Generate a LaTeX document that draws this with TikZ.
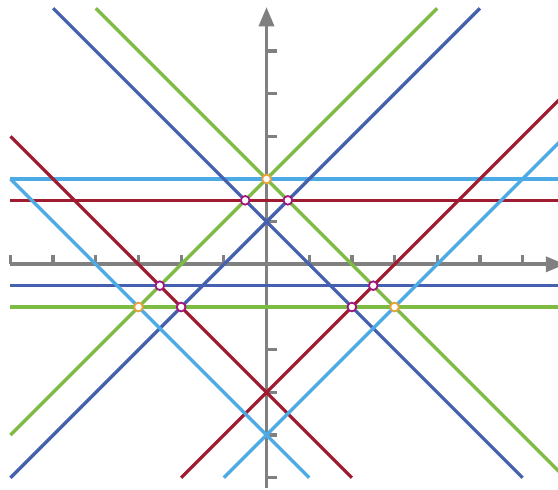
\documentclass[tikz,border=0pt]{standalone}
\definecolor{green1}{RGB}{126, 187, 66}
\definecolor{blue1}{RGB}{68, 96, 174}
\definecolor{red1}{RGB}{158, 27, 48}
\definecolor{sky1}{RGB}{76, 170, 228}
\definecolor{orange1}{RGB}{233, 162, 59}
\definecolor{violet1}{RGB}{163, 21, 126}
\definecolor{gray1}{RGB}{128, 128, 128}
\usetikzlibrary{arrows.meta}

\begin{document}
\begin{tikzpicture}[
    axis/.style={draw=gray1, line width=2.6pt},
    tick/.style={draw=gray1, line width=2.2pt},
    ln/.style={draw=#1, line width=2.2pt},
    dot/.style={circle, draw=#1, fill=white, line width=1.2pt, inner sep=0pt, minimum size=5.8pt}
  ]
  \clip (-6.245,-5.266) rectangle (6.83,6.194);

  % axes with ticks
  \draw[axis, -{Triangle[length=13pt, width=10pt]}] (-6,0) -- (7,0);
  \draw[axis, -{Triangle[length=13pt, width=10pt]}] (0,-5.25) -- (0,6.03);
  \foreach \k in {-6,...,-1,1,2,...,6}
    \draw[tick] (\k,0) -- (\k,0.23);
  \foreach \k in {-5,...,-1,1,2,...,5}
    \draw[tick] (0,\k) -- (0.24,\k);

  % horizontal lines
  \draw[ln=sky1] (-6,2) -- (7,2);
  \draw[ln=red1] (-6,1.5) -- (7,1.5);
  \draw[ln=blue1] (-6,-0.5) -- (7,-0.5);
  \draw[ln=green1] (-6,-1) -- (7,-1);

  % slanted lines
  \draw[ln=green1] (-6,-4) -- (4,6);
  \draw[ln=green1] (-4,6) -- (7,-5);
  \draw[ln=blue1] (-6,-5) -- (5,6);
  \draw[ln=blue1] (-5,6) -- (6,-5);
  \draw[ln=red1] (-2,-5) -- (7,4);
  \draw[ln=red1] (-6,3) -- (2,-5);
  \draw[ln=sky1] (-1,-5) -- (7,3);
  \draw[ln=sky1] (-6,2) -- (1,-5);

  % intersection points
  \node[dot=orange1] (o1) at (0,2) {};
  \node[dot=orange1] (o2) at (-3,-1) {};
  \node[dot=orange1] (o3) at (3,-1) {};
  \node[dot=violet1] (v1) at (-0.5,1.5) {};
  \node[dot=violet1] (v2) at (0.5,1.5) {};
  \node[dot=violet1] (v3) at (-2.5,-0.5) {};
  \node[dot=violet1] (v4) at (-2,-1) {};
  \node[dot=violet1] (v5) at (2.5,-0.5) {};
  \node[dot=violet1] (v6) at (2,-1) {};
\end{tikzpicture}
\end{document}
